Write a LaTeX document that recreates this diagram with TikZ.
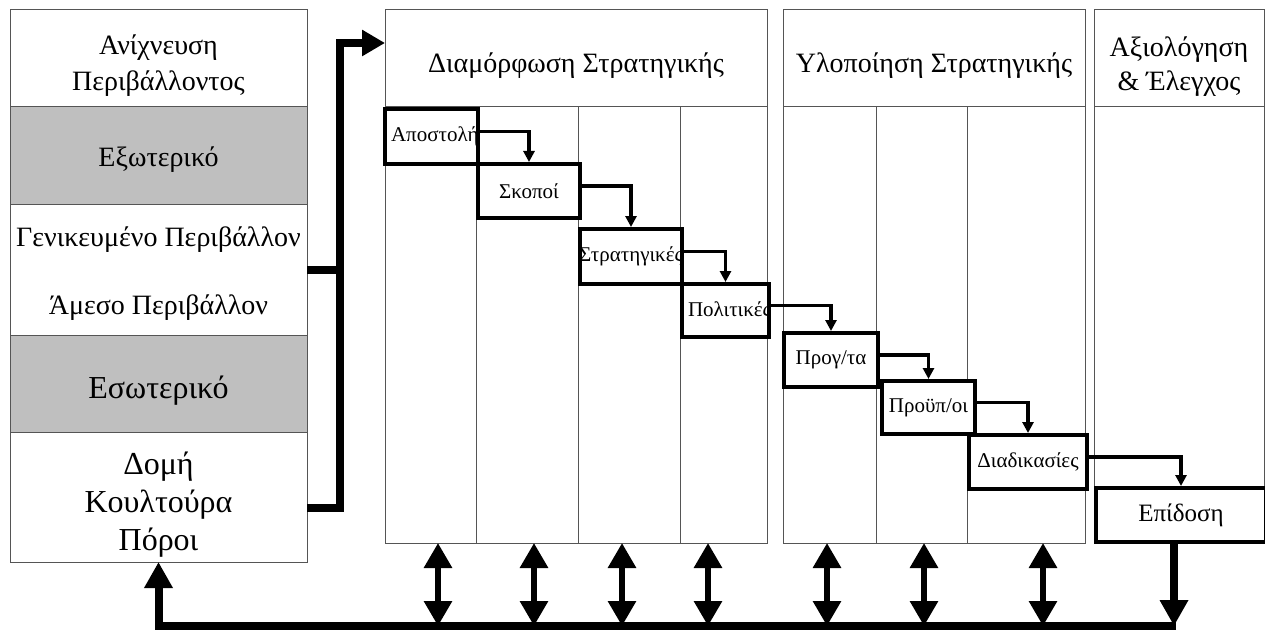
\documentclass[tikz,border=0pt]{standalone}
\usepackage{fontspec}
\setmainfont{Liberation Serif}
\usetikzlibrary{positioning,arrows.meta}
\definecolor{panelgray}{RGB}{191,191,191}
\definecolor{rulegray}{RGB}{85,85,85}

\begin{document}
\begin{tikzpicture}[x=1pt,y=-1pt,
  section/.style={draw=rulegray, line width=1pt, minimum width=297pt, outer sep=0pt, inner sep=0pt},
  shaded/.style={section, fill=panelgray},
  sectext/.style={align=center, font=\fontsize{28}{36}\selectfont},
  bigtext/.style={align=center, font=\fontsize{32}{38}\selectfont},
  frame/.style={draw=rulegray, line width=1pt},
  head/.style={align=center, font=\fontsize{28}{34}\selectfont},
  stepbox/.style={draw, fill=white, line width=4pt, inner sep=0pt, anchor=north west, font=\fontsize{21}{24}\selectfont},
  cutlabel/.style 2 args={path picture={\node[font=\fontsize{21}{24}\selectfont, inner sep=4pt, anchor=#1] at (path picture bounding box.#1) {#2};}},
  steparrow/.style={line width=3.5pt, -{Triangle[width=11pt,length=11pt]}},
  bigline/.style={line width=8pt},
  bigtip/.style={-{Triangle[width=27pt,length=26pt]}},
  dblarrow/.style={line width=6pt, {Triangle[width=27pt,length=25pt]}-{Triangle[width=27pt,length=25pt]}}]
\useasboundingbox (0,0) rectangle (1265,631);

% left column
\node[section, anchor=north west, minimum height=97pt, label={[sectext, yshift=-7pt]center:{Ανίχνευση\\Περιβάλλοντος}}] (scan) at (10,10) {};
\node[shaded, minimum height=97pt, below=0pt of scan, label={[sectext, yshift=-4pt]center:Εξωτερικό}] (ext) {};
\node[section, minimum height=131pt, below=0pt of ext, label={[sectext, yshift=-4pt]center:{Γενικευμένο Περιβάλλον\\[32pt]Άμεσο Περιβάλλον}}] (gen) {};
\node[shaded, minimum height=97pt, below=0pt of gen, label={[bigtext, yshift=-7pt]center:Εσωτερικό}] (int) {};
\node[section, minimum height=130pt, below=0pt of int, label={[bigtext, yshift=-8pt]center:{Δομή\\Κουλτούρα\\Πόροι}}] (res) {};

% frames of the three phases
\draw[frame] (385,10) rectangle (767,543);
\draw[frame] (385,107) -- (767,107);
\foreach \x in {476,578,680} % columns
\draw[frame] (\x,107) -- (\x,543);
\draw[frame] (783,10) rectangle (1085,543);
\draw[frame] (783,107) -- (1085,107);
\foreach \x in {876,967}
\draw[frame] (\x,107) -- (\x,543);
\draw[frame] (1094,10) rectangle (1264,486);
\draw[frame] (1094,107) -- (1264,107);

\node[head] (form) at (576,66) {Διαμόρφωση Στρατηγικής};
\node[head] (impl) at (934,66) {Υλοποίηση Στρατηγικής};
\node[head] (eval) at (1179,67) {Αξιολόγηση\\\& Έλεγχος};

% the steps
\node[stepbox, minimum width=93pt, minimum height=55pt, cutlabel={west}{Αποστολή}] (mission) at (383,107) {};
\node[stepbox, minimum width=102pt, minimum height=54pt] (goals) at (476,162) {Σκοποί};
\node[stepbox, minimum width=102pt, minimum height=55pt, cutlabel={center}{Στρατηγικές}] (strat) at (578,227) {};
\node[stepbox, minimum width=87pt, minimum height=53pt, cutlabel={west}{Πολιτικές}] (policy) at (680,282) {};
\node[stepbox, minimum width=94pt, minimum height=54pt] (prog) at (782,331) {Προγ/τα};
\node[stepbox, minimum width=93pt, minimum height=53pt] (budget) at (880,379) {Προϋπ/οι};
\node[stepbox, minimum width=118pt, minimum height=54pt] (proc) at (967,433) {Διαδικασίες};
\node[stepbox, minimum width=170pt, minimum height=54pt, font=\fontsize{25}{28}\selectfont] (perf) at (1094,486) {Επίδοση};

\foreach \a/\b in {mission/goals, goals/strat, strat/policy, policy/prog, prog/budget, budget/proc, proc/perf}
\draw[steparrow] ([yshift=5pt]\a.east) -| (\b.north);

% thick feed lines
\coordinate (bus) at (340,43);
\coordinate (formin) at (385,43);
\coordinate (colbase) at (0,543);
\coordinate (fbus) at (1176,626);
\draw[bigline] (gen.east) -- (gen.east -| bus);
\draw[bigline, -{Triangle[width=25pt,length=23pt]}] ([yshift=-11pt]res.east) -| (bus) -- (formin);
\draw[bigline, bigtip] ([xshift=-7pt]perf.south) -- ([xshift=-7pt]perf.south |- fbus);
\draw[bigline, bigtip] (fbus) -| (res.south);
\foreach \x in {438,534,622,708,827,924,1043} % edit here for the double arrows
\draw[dblarrow] (\x,0 |- colbase) -- (\x,0 |- fbus);
\end{tikzpicture}
\end{document}
